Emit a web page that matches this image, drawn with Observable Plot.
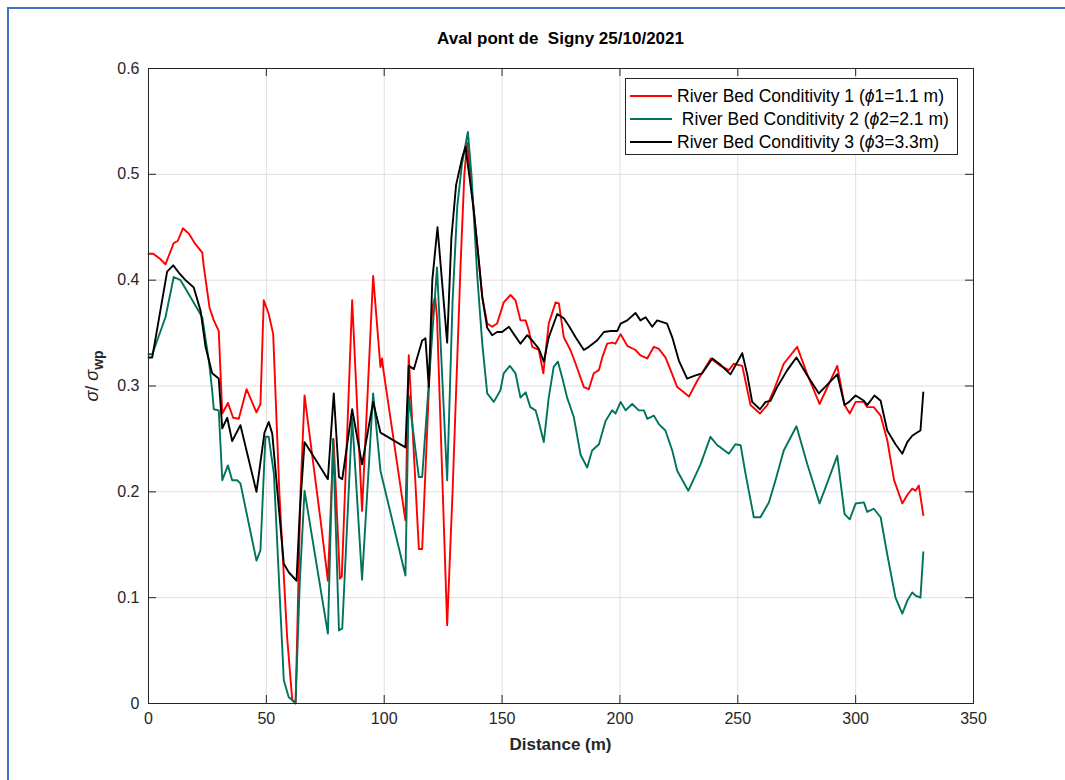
<!DOCTYPE html>
<html>
<head>
<meta charset="utf-8">
<script src="https://cdn.jsdelivr.net/npm/d3@7"></script>
<script src="https://cdn.jsdelivr.net/npm/@observablehq/plot@0.6"></script>
<style>
  body { margin: 0; background: #fff; font-family: "Liberation Sans", Arial, Helvetica, sans-serif; }
  #wrap { position: relative; width: 1065px; height: 780px; overflow: hidden; background: #fff; }
  #border { position: absolute; left: 7px; top: 7px; width: 1200px; height: 900px;
            border-left: 2px solid #4472c4; border-top: 2px solid #4472c4; pointer-events: none; }
  #chart { position: absolute; left: 0; top: 0; }
  .title { position: absolute; left: 148px; width: 825px; top: 29px; text-align: center;
           font-weight: bold; font-size: 17px; color: #000; white-space: pre; }
  .xlabel { position: absolute; left: 148px; width: 825px; top: 735px; text-align: center;
            font-weight: bold; font-size: 17px; color: #262626; }
  .ylabel { position: absolute; left: 94px; top: 376px; transform: translate(-50%, -50%) rotate(-90deg);
            font-size: 18px; color: #262626; white-space: nowrap; }
  .ylabel sub { font-weight: bold; font-size: 14px; }
  .legend { position: absolute; left: 625px; top: 78px; width: 331px; height: 75px;
            border: 1px solid #262626; background: #fff; font-size: 17.5px; color: #000; }
  .row { position: absolute; left: 4px; height: 22px; display: flex; align-items: center; white-space: pre; }
  .sw { width: 42px; height: 0; margin-right: 5px; border-top: 2px solid; }
</style>
</head>
<body>
<div id="wrap">
  <div id="chart"></div>
  <div class="title" id="title"></div>
  <div class="xlabel" id="xlabel"></div>
  <div class="ylabel" id="ylabel"></div>
  <div class="legend" id="legend"></div>
  <div id="border"></div>
</div>
<script>
// ---------------- data ----------------
const chartTitle = "Aval pont de  Signy 25/10/2021";
const xAxisLabel = "Distance (m)";
const xTicks = [0, 50, 100, 150, 200, 250, 300, 350];
const yTicks = [0, 0.1, 0.2, 0.3, 0.4, 0.5, 0.6];
const seriesNames = [
  "River Bed Conditivity 1 (ϕ1=1.1 m)",
  " River Bed Conditivity 2 (ϕ2=2.1 m)",
  "River Bed Conditivity 3 (ϕ3=3.3m)"
];
const seriesColors = ["#ff0000", "#00735c", "#000000"];

// [distance (m), sigma / sigma_wp]
const cond1 = [[0,0.425],[2,0.425],[5,0.42],[7.2,0.415],[10.7,0.435],[12.4,0.437],[14.6,0.449],[17.1,0.444],[19.9,0.434],[22.8,0.426],[23.5,0.412],[25.9,0.374],[27.7,0.362],[29.8,0.352],[31.3,0.274],[33.7,0.284],[35.9,0.270],[38.3,0.269],[41.6,0.297],[45.8,0.275],[47.5,0.283],[48.9,0.381],[51,0.368],[52.9,0.349],[55.5,0.2],[58.8,0.063],[61,0.003],[62.4,0.0],[64.5,0.2],[66.2,0.291],[73,0.173],[76.1,0.116],[78.5,0.25],[81.2,0.118],[82,0.12],[86.4,0.381],[90.6,0.182],[95.3,0.404],[98.4,0.318],[99.1,0.326],[99.6,0.316],[109,0.173],[110.4,0.329],[114.7,0.146],[116.1,0.146],[120.4,0.374],[121.6,0.384],[122.4,0.365],[126.7,0.074],[129,0.2],[132.4,0.415],[134,0.5],[135.2,0.530],[138,0.466],[140.1,0.419],[141.6,0.384],[143.7,0.359],[145.8,0.356],[147.9,0.359],[150.7,0.379],[153.6,0.386],[155.7,0.381],[157.8,0.362],[160,0.362],[161.4,0.352],[162.8,0.337],[165.6,0.334],[167.5,0.312],[169.8,0.359],[172.7,0.379],[174.1,0.378],[176.2,0.346],[179,0.334],[181.2,0.321],[184.7,0.299],[186.8,0.297],[188.9,0.312],[191.1,0.315],[192.5,0.327],[194.6,0.340],[196.7,0.341],[198.1,0.340],[200.3,0.349],[203.1,0.338],[206.6,0.334],[208.7,0.329],[211.6,0.326],[214.4,0.337],[216.5,0.335],[219.3,0.327],[221.5,0.315],[224.3,0.299],[227.1,0.294],[229.3,0.290],[232.8,0.305],[235.6,0.315],[238.6,0.326],[242.7,0.319],[246.2,0.315],[248.3,0.321],[251.9,0.319],[255.4,0.282],[259.4,0.274],[262.5,0.282],[265.3,0.296],[269.5,0.321],[275.2,0.337],[279.5,0.311],[284.7,0.283],[292.2,0.319],[295.3,0.282],[297.5,0.274],[300,0.285],[303.5,0.285],[304.9,0.280],[307.7,0.280],[310.6,0.272],[313.4,0.249],[316.3,0.211],[319.8,0.189],[321.9,0.197],[324,0.203],[325.4,0.201],[326.8,0.206],[328.7,0.178]];

const cond2 = [[0,0.330],[1.6,0.330],[7.2,0.365],[10.7,0.403],[13.6,0.400],[17.8,0.384],[22.8,0.365],[25.6,0.324],[27,0.296],[27.7,0.278],[29.8,0.277],[31.3,0.211],[33.7,0.225],[35.5,0.211],[37.6,0.211],[39,0.208],[45.8,0.135],[47.5,0.145],[49.6,0.252],[51,0.252],[53.2,0.217],[57.4,0.022],[59.5,0.006],[62.4,0.001],[64.2,0.116],[66.2,0.201],[76.1,0.066],[78.3,0.25],[80.8,0.069],[82.2,0.071],[86.4,0.27],[90.6,0.117],[95.3,0.293],[98.4,0.22],[109,0.121],[110.4,0.291],[114.7,0.214],[116.1,0.214],[122.4,0.412],[126.7,0.211],[129,0.38],[131,0.47],[133,0.51],[135.5,0.540],[137,0.5],[139.5,0.403],[141.6,0.340],[143.7,0.293],[146.5,0.285],[149.3,0.296],[150.7,0.312],[153.3,0.319],[155.7,0.312],[157.8,0.289],[160,0.294],[162,0.280],[164.2,0.277],[165.6,0.266],[167.7,0.247],[169.8,0.289],[171.9,0.318],[173.7,0.323],[175.5,0.308],[177.6,0.289],[180.4,0.271],[183.3,0.235],[186.1,0.223],[188.2,0.239],[191.1,0.245],[193.9,0.267],[196.7,0.277],[198.1,0.274],[200.3,0.285],[202.4,0.277],[205.2,0.283],[208,0.277],[210.2,0.277],[211.6,0.269],[214.4,0.272],[216.5,0.264],[219.3,0.258],[222.2,0.239],[224.3,0.220],[229,0.201],[234.2,0.226],[238.4,0.252],[241.3,0.244],[242.7,0.242],[246.2,0.236],[249,0.245],[251.2,0.244],[253.3,0.217],[256.8,0.176],[259.6,0.176],[263.2,0.190],[266,0.211],[269.5,0.239],[274.9,0.262],[279.5,0.226],[284.7,0.189],[292.2,0.234],[295.3,0.179],[297.5,0.174],[300,0.189],[303.5,0.190],[304.9,0.181],[307.7,0.184],[310.6,0.176],[313.4,0.141],[316.9,0.100],[319.8,0.085],[321.9,0.097],[324,0.105],[325.4,0.102],[327.5,0.100],[328.7,0.143]];

const cond3 = [[0,0.327],[1.6,0.327],[7.9,0.408],[10.5,0.414],[12.9,0.407],[15.7,0.400],[19.2,0.393],[22.1,0.371],[24.2,0.337],[27,0.312],[29.8,0.307],[31.3,0.260],[33.4,0.270],[35.5,0.248],[39,0.263],[45.8,0.200],[49.2,0.256],[51,0.266],[52.5,0.255],[57.4,0.132],[59.5,0.124],[62.8,0.116],[64.2,0.182],[66.2,0.247],[76.1,0.212],[78.6,0.293],[80.8,0.214],[82.2,0.212],[86.4,0.278],[90.6,0.226],[95.3,0.285],[98.4,0.256],[109,0.242],[110.4,0.319],[112.6,0.316],[116.1,0.343],[117.5,0.345],[118.9,0.299],[120.4,0.400],[122.6,0.450],[126.7,0.341],[128.5,0.44],[130.5,0.49],[133,0.515],[134.5,0.526],[138,0.466],[140.1,0.419],[141.6,0.384],[143.7,0.355],[145.8,0.348],[147.9,0.351],[150,0.351],[152.9,0.356],[155,0.349],[157.8,0.340],[160.7,0.348],[162.8,0.343],[165.6,0.335],[167.7,0.323],[169.8,0.346],[173.4,0.368],[176.2,0.364],[178.3,0.357],[181.2,0.346],[184.7,0.334],[186.8,0.337],[190.3,0.343],[193.2,0.351],[196,0.352],[198.9,0.352],[200.3,0.359],[203.1,0.362],[206.6,0.369],[208.7,0.362],[210.9,0.365],[213.7,0.356],[215.8,0.362],[220,0.359],[222.2,0.346],[225,0.324],[228.5,0.307],[232.1,0.310],[234.9,0.312],[239.2,0.326],[242.7,0.320],[246.9,0.311],[251.9,0.331],[254,0.311],[256.1,0.285],[259.4,0.278],[261.8,0.285],[263.9,0.286],[266.7,0.299],[271,0.315],[274.9,0.327],[279.5,0.310],[284.4,0.293],[292.2,0.311],[295.3,0.282],[297.2,0.285],[300,0.291],[303.5,0.286],[304.9,0.282],[308,0.291],[310.6,0.286],[313.4,0.258],[316.9,0.245],[319.8,0.236],[321.9,0.247],[324,0.253],[326.1,0.256],[327.5,0.258],[328.7,0.294]];

// ---------------- chart ----------------
const allSeries = [cond1, cond2, cond3];
const frameColor = "#262626";
const gridColor = "#dfdfdf";

const marks = [
  Plot.gridX(xTicks, {stroke: gridColor, strokeOpacity: 1}),
  Plot.gridY(yTicks, {stroke: gridColor, strokeOpacity: 1})
];
allSeries.forEach((s, i) => {
  marks.push(Plot.line(s, {x: d => d[0], y: d => d[1], stroke: seriesColors[i], strokeWidth: 1.9, strokeLinejoin: "round"}));
});
marks.push(
  Plot.frame({stroke: frameColor, strokeWidth: 1}),
  Plot.tickX(xTicks, {x: d => d, insetTop: 627, stroke: frameColor}),
  Plot.tickX(xTicks, {x: d => d, insetBottom: 627, stroke: frameColor}),
  Plot.tickY(yTicks, {y: d => d, insetLeft: 817, stroke: frameColor}),
  Plot.tickY(yTicks, {y: d => d, insetRight: 817, stroke: frameColor}),
  Plot.axisX(xTicks, {tickSize: 0, tickPadding: 9, label: null, fontSize: 16, fill: frameColor}),
  Plot.axisY(yTicks, {tickSize: 0, tickPadding: 9, label: null, fontSize: 16, fill: frameColor,
                      tickFormat: d => d === 0 ? "0" : d.toFixed(1)})
);

const chart = Plot.plot({
  width: 1065,
  height: 780,
  marginLeft: 148,
  marginRight: 92,
  marginTop: 68,
  marginBottom: 77,
  x: {domain: [0, 350]},
  y: {domain: [0, 0.6]},
  style: {fontFamily: '"Liberation Sans", Arial, Helvetica, sans-serif', fontSize: "16px", background: "transparent", color: frameColor},
  marks
});
document.getElementById("chart").appendChild(chart);

document.getElementById("title").textContent = chartTitle;
document.getElementById("xlabel").textContent = xAxisLabel;
document.getElementById("ylabel").innerHTML = '<i>σ</i>/ <i>σ</i><sub>wp</sub>';

const legend = document.getElementById("legend");
seriesNames.forEach((name, i) => {
  const row = document.createElement("div");
  row.className = "row";
  row.style.top = (6 + i * 23) + "px";
  const sw = document.createElement("div");
  sw.className = "sw";
  sw.style.borderTopColor = seriesColors[i];
  const t = document.createElement("span");
  t.innerHTML = name.replace(/ϕ/g, "<i>ϕ</i>");
  row.appendChild(sw);
  row.appendChild(t);
  legend.appendChild(row);
});
</script>
</body>
</html>
